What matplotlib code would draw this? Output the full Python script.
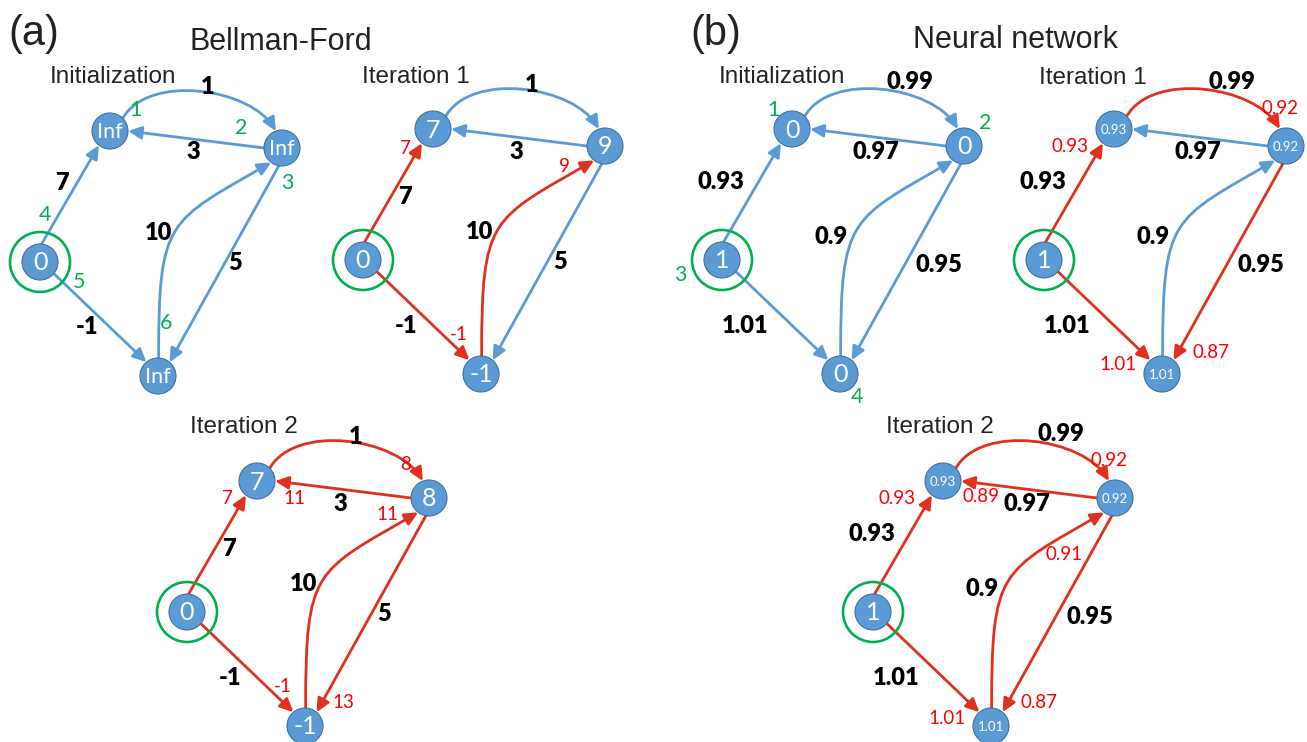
import numpy as np
import matplotlib
matplotlib.use("Agg")
import matplotlib.pyplot as plt
from matplotlib.patches import Circle, FancyArrowPatch
from matplotlib.path import Path

plt.rcParams['font.family'] = ['Lato', 'DejaVu Sans']

# ---- data ----
bf_init_nodes = ["0", "Inf", "Inf", "Inf"]
bf_iter1_nodes = ["0", "7", "9", "-1"]
bf_iter2_nodes = ["0", "7", "8", "-1"]
nn_init_nodes = ["1", "0", "0", "0"]
nn_iter1_nodes = ["1", "0.93", "0.92", "1.01"]
nn_iter2_nodes = ["1", "0.93", "0.92", "1.01"]

# edge order: S->A, S->C, A->B, B->A, B->C, C->B
bf_weights = ["7", "-1", "1", "3", "5", "10"]
nn_weights = ["0.93", "1.01", "0.99", "0.97", "0.95", "0.9"]

# 1 = updated (red) edge, 0 = blue
bf_init_active = [0, 0, 0, 0, 0, 0]
bf_iter1_active = [1, 1, 0, 0, 0, 1]
bf_iter2_active = [1, 1, 1, 1, 1, 1]
nn_init_active = [0, 0, 0, 0, 0, 0]
nn_iter1_active = [1, 1, 1, 0, 1, 0]
nn_iter2_active = [1, 1, 1, 1, 1, 1]

bf_iter1_red = ["7", "9", "-1"]
bf_iter2_red = ["7", "11", "8", "11", "-1", "13"]
nn_iter1_red = ["0.93", "0.92", "1.01", "0.87"]
nn_iter2_red = ["0.93", "0.92", "0.89", "0.91", "1.01", "0.87"]

bf_order = ["1", "2", "3", "4", "5", "6"]
nn_order = ["1", "2", "3", "4"]

titles = ["Initialization", "Iteration 1", "Iteration 2",
          "Initialization", "Iteration 1", "Iteration 2"]

# ---- layout (pixels, y down) ----
node_pos = [(0, 0), (70, -131), (242, -114), (118, 114)]
R = 18
edge_geom = [  # src, dst, out angle, in angle, out handle (ang, len), in handle (ang, len)
    (0, 1, 85, 232, 0, 0, 0, 0),
    (0, 3, -40, 130, 0, 0, 0, 0),
    (1, 2, 45, 110, 60, 52, 120, 50),
    (2, 1, 180, 0, 0, 0, 0, 0),
    (2, 3, -100, 50, 0, 0, 0, 0),
    (3, 2, 88, 233, 90, 140, 210, 120),
]
origins = [(40, 262), (363, 260), (187, 612), (722, 260), (1044, 260), (873, 612)]
title_pos = [(113, 83), (416, 83), (244, 433), (782, 83), (1093, 84), (940, 433)]

bf_w_pos_init = [(22, -79), (47, 65), (168, -175), (153, -110), (195, 1), (118, -29)]
bf_w_pos_iter = [(42, -63), (43, 66), (169, -175), (153, -108), (197, 2), (116, -28)]
nn_w_pos = [(-1, -78), (23, 66), (188, -178), (154, -108), (217, 5), (109, -23)]

bf_iter1_red_pos = [(42, -112), (201, -93), (96, 75)]
bf_iter2_red_pos = [(40, -113), (107, -113), (219, -148), (200, -98), (96, 75), (156, 91)]
nn_iter1_red_pos = [(26, -113), (236, -151), (74, 105), (167, 92)]
nn_iter2_red_pos = [(24, -114), (236, -152), (108, -116), (191, -58), (74, 106), (166, 91)]
bf_order_pos = [(95, -152), (201, -134), (247, -79), (5, -47), (39, 20), (126, 61)]
nn_order_pos = [(51, -150), (263, -137), (-42, 15), (135, 137)]

BLUE = '#5b9bd5'
RED = '#e0301e'
GREEN = '#00b050'

fig = plt.figure(figsize=(13.07, 7.42), dpi=100)
ax = fig.add_axes([0, 0, 1, 1])
ax.set_xlim(0, 1307)
ax.set_ylim(742, 0)
ax.axis('off')


def unit(a):
    r = np.deg2rad(a)
    return np.array([np.cos(r), -np.sin(r)])


def draw_panel(k, nodes, weights, w_pos, active, reds, red_pos, greens, green_pos):
    ox, oy = origins[k]
    pts = [np.array([ox + x, oy + y], dtype=float) for x, y in node_pos]
    for e, (i, j, ao, ai, ho, lo, hi, li) in enumerate(edge_geom):
        p0 = pts[i] + R * unit(ao)
        p3 = pts[j] + R * unit(ai)
        if lo == 0:
            path = Path([p0, p3], [Path.MOVETO, Path.LINETO])
        else:
            p1 = p0 + lo * unit(ho)
            p2 = p3 + li * unit(hi)
            path = Path([p0, p1, p2, p3],
                        [Path.MOVETO, Path.CURVE4, Path.CURVE4, Path.CURVE4])
        col = RED if active[e] else BLUE
        ax.add_patch(FancyArrowPatch(path=path, arrowstyle='-|>,head_length=0.8,head_width=0.38',
                                     mutation_scale=10, color=col, lw=2.0, zorder=2))
    ax.add_patch(Circle(pts[0], 30, fill=False, ec=GREEN, lw=1.9, zorder=4))
    for p, v in zip(pts, nodes):
        ax.add_patch(Circle(p, R, fc=BLUE, ec='#41719c', lw=0.8, zorder=3))
        fs = 18 if len(v) <= 2 else (15.5 if v == "Inf" else 9.5)
        ax.text(p[0], p[1] + 1, v, color='white', fontsize=fs, ha='center', va='center', zorder=5)
    for t, (x, y) in zip(weights, w_pos):
        ax.text(ox + x, oy + y, t, fontsize=17, fontweight='heavy', ha='center', va='center', zorder=6)
    for t, (x, y) in zip(reds, red_pos):
        ax.text(ox + x, oy + y, t, fontsize=13.5, color='red', ha='center', va='center', zorder=6)
    for t, (x, y) in zip(greens, green_pos):
        ax.text(ox + x, oy + y, t, fontsize=15.5, color=GREEN, ha='center', va='center', zorder=6)
    tx, ty = title_pos[k]
    ax.text(tx, ty, titles[k], fontsize=17.5, family=['Liberation Sans'], color='#222222',
            ha='center', va='baseline')


draw_panel(0, bf_init_nodes, bf_weights, bf_w_pos_init, bf_init_active, [], [], bf_order, bf_order_pos)
draw_panel(1, bf_iter1_nodes, bf_weights, bf_w_pos_iter, bf_iter1_active, bf_iter1_red, bf_iter1_red_pos, [], [])
draw_panel(2, bf_iter2_nodes, bf_weights, bf_w_pos_iter, bf_iter2_active, bf_iter2_red, bf_iter2_red_pos, [], [])
draw_panel(3, nn_init_nodes, nn_weights, nn_w_pos, nn_init_active, [], [], nn_order, nn_order_pos)
draw_panel(4, nn_iter1_nodes, nn_weights, nn_w_pos, nn_iter1_active, nn_iter1_red, nn_iter1_red_pos, [], [])
draw_panel(5, nn_iter2_nodes, nn_weights, nn_w_pos, nn_iter2_active, nn_iter2_red, nn_iter2_red_pos, [], [])

ax.text(8, 45, "(a)", fontsize=30, family=['Liberation Sans'], color='#222222', ha='left', va='baseline')
ax.text(281, 50, "Bellman-Ford", fontsize=22, family=['Liberation Sans'], color='#222222', ha='center', va='baseline')
ax.text(690, 45, "(b)", fontsize=30, family=['Liberation Sans'], color='#222222', ha='left', va='baseline')
ax.text(1015, 48, "Neural network", fontsize=22, family=['Liberation Sans'], color='#222222', ha='center', va='baseline')

fig.savefig("out.png", dpi=100)
